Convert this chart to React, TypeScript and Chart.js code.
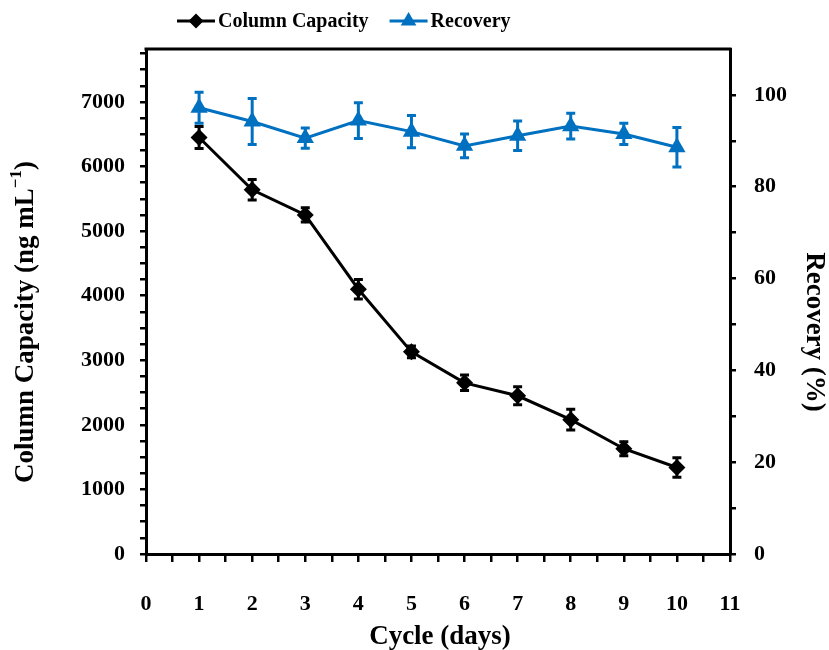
import React, { useEffect, useRef } from "react";
import { Chart, registerables } from "chart.js";

Chart.register(...registerables);

const cycles = [1, 2, 3, 4, 5, 6, 7, 8, 9, 10];
const capacity = [6450, 5640, 5250, 4100, 3130, 2650, 2450, 2080, 1630, 1340];
const capacityErr = [170, 160, 110, 150, 90, 120, 140, 160, 110, 150];
const recovery = [97.2, 94.2, 90.6, 94.4, 92.0, 88.9, 91.1, 93.2, 91.5, 88.6];
const recoveryErr = [3.4, 5.0, 2.2, 3.9, 3.5, 2.6, 3.2, 2.8, 2.3, 4.3];

const leftMax = 7820;
const rightMax = 110;
const xMax = 11;

const FONT = "'Liberation Serif', 'Times New Roman', serif";
const BLUE = "#0070C0";
const BLACK = "#000000";

const errorsById: Record<string, number[]> = {
  cap: capacityErr,
  rec: recoveryErr,
};

const customPlugin = {
  id: "custom",
  afterDatasetsDraw(chart: any) {
    const ctx = chart.ctx;
    chart.data.datasets.forEach((ds: any) => {
      const errs = errorsById[ds.id];
      if (!errs) return;
      const xs = chart.scales.x;
      const ys = chart.scales[ds.yAxisID];
      ctx.save();
      ctx.strokeStyle = ds.borderColor;
      ctx.lineWidth = 3;
      ds.data.forEach((p: any, i: number) => {
        const px = xs.getPixelForValue(p.x);
        const top = ys.getPixelForValue(p.y + errs[i]);
        const bot = ys.getPixelForValue(p.y - errs[i]);
        ctx.beginPath();
        ctx.moveTo(px, top);
        ctx.lineTo(px, bot);
        ctx.moveTo(px - 4.5, top);
        ctx.lineTo(px + 4.5, top);
        ctx.moveTo(px - 4.5, bot);
        ctx.lineTo(px + 4.5, bot);
        ctx.stroke();
      });
      ctx.restore();
    });
  },
  afterDraw(chart: any) {
    const ctx = chart.ctx;
    const a = chart.chartArea;
    ctx.save();
    ctx.strokeStyle = BLACK;
    ctx.lineWidth = 3;
    ctx.beginPath();
    ctx.moveTo(a.left - 1.5, a.top);
    ctx.lineTo(a.right + 1.5, a.top);
    ctx.stroke();

    ctx.fillStyle = BLACK;
    ctx.textBaseline = "middle";

    ctx.font = `bold 27px ${FONT}`;
    ctx.textAlign = "center";
    ctx.fillText("Cycle (days)", (a.left + a.right) / 2 + 2, 637);

    const mainFont = `bold 27px ${FONT}`;
    const supFont = `bold 17px ${FONT}`;
    const p1 = "Column Capacity (ng mL";
    const p2 = "\u22121";
    const p3 = ")";
    ctx.font = mainFont;
    const w1 = ctx.measureText(p1).width;
    const w3 = ctx.measureText(p3).width;
    ctx.font = supFont;
    const w2 = ctx.measureText(p2).width;
    const total = w1 + w2 + w3;
    ctx.save();
    ctx.translate(26, 322);
    ctx.rotate(-Math.PI / 2);
    ctx.textAlign = "left";
    let x0 = -total / 2;
    ctx.font = mainFont;
    ctx.fillText(p1, x0, 0);
    x0 += w1;
    ctx.font = supFont;
    ctx.fillText(p2, x0, -9);
    x0 += w2;
    ctx.font = mainFont;
    ctx.fillText(p3, x0, 0);
    ctx.restore();

    ctx.save();
    ctx.translate(814, 332);
    ctx.rotate(Math.PI / 2);
    ctx.textAlign = "center";
    ctx.font = mainFont;
    ctx.fillText("Recovery (%)", 0, 0);
    ctx.restore();

    const ly = 21;
    let lx = a.left + 31;
    ctx.font = `bold 20px ${FONT}`;
    ctx.textAlign = "left";
    chart.data.datasets.forEach((ds: any) => {
      const lineLen = 38;
      ctx.strokeStyle = ds.borderColor;
      ctx.fillStyle = ds.borderColor;
      ctx.lineWidth = 3;
      ctx.beginPath();
      ctx.moveTo(lx, ly);
      ctx.lineTo(lx + lineLen, ly);
      ctx.stroke();
      const cx = lx + lineLen / 2;
      ctx.beginPath();
      if (ds.pointStyle === "rectRot") {
        const r = 7.5;
        ctx.moveTo(cx, ly - r);
        ctx.lineTo(cx + r, ly);
        ctx.lineTo(cx, ly + r);
        ctx.lineTo(cx - r, ly);
      } else {
        const r = 9;
        ctx.moveTo(cx, ly - r);
        ctx.lineTo(cx + r * 0.87, ly + r * 0.5);
        ctx.lineTo(cx - r * 0.87, ly + r * 0.5);
      }
      ctx.closePath();
      ctx.fill();
      lx += lineLen + 3;
      ctx.fillStyle = BLACK;
      ctx.fillText(ds.label, lx, ly + 1);
      lx += ctx.measureText(ds.label).width + 21;
    });
    ctx.restore();
  },
};

export default function App() {
  const ref = useRef<HTMLCanvasElement | null>(null);
  useEffect(() => {
    if (!ref.current) return;
    const tickFont = { family: FONT, size: 22, weight: "bold" as const };
    const chart = new Chart(ref.current, {
      type: "line",
      data: {
        datasets: [
          {
            id: "cap",
            label: "Column Capacity",
            data: cycles.map((x, i) => ({ x, y: capacity[i] })),
            yAxisID: "y",
            borderColor: BLACK,
            backgroundColor: BLACK,
            borderWidth: 3,
            pointStyle: "rectRot",
            pointRadius: 8.5,
            pointBorderWidth: 0,
            tension: 0,
          } as any,
          {
            id: "rec",
            label: "Recovery",
            data: cycles.map((x, i) => ({ x, y: recovery[i] })),
            yAxisID: "y1",
            borderColor: BLUE,
            backgroundColor: BLUE,
            borderWidth: 3,
            pointStyle: "triangle",
            pointRadius: 10,
            pointBorderWidth: 0,
            tension: 0,
          } as any,
        ],
      },
      options: {
        animation: false,
        responsive: false,
        layout: { padding: { top: 49, left: 0, right: 0, bottom: 0 } },
        plugins: {
          legend: { display: false },
          tooltip: { enabled: false },
        },
        scales: {
          x: {
            type: "linear",
            min: 0,
            max: xMax,
            afterFit: (s: any) => {
              s.height = 96;
            },
            afterBuildTicks: (s: any) => {
              const t = [];
              for (let v = 0; v <= xMax + 1e-9; v += 0.5) t.push({ value: v });
              s.ticks = t;
            },
            ticks: {
              autoSkip: false,
              maxRotation: 0,
              padding: 29,
              color: BLACK,
              font: tickFont,
              callback: (v: any) => (Number.isInteger(v) ? String(v) : ""),
            },
            grid: {
              drawOnChartArea: false,
              drawTicks: true,
              tickLength: 8,
              color: BLACK,
              lineWidth: 2.5,
            },
            border: { display: true, color: BLACK, width: 3 },
          },
          y: {
            type: "linear",
            position: "left",
            min: 0,
            max: leftMax,
            afterFit: (s: any) => {
              s.width = 146;
            },
            afterBuildTicks: (s: any) => {
              const t = [];
              for (let v = 0; v <= leftMax; v += 250) t.push({ value: v });
              s.ticks = t;
            },
            ticks: {
              autoSkip: false,
              padding: 15,
              color: BLACK,
              font: tickFont,
              callback: (v: any) => (v % 1000 === 0 ? String(v) : ""),
            },
            grid: {
              drawOnChartArea: false,
              drawTicks: true,
              tickLength: 6,
              color: BLACK,
              lineWidth: 2.5,
            },
            border: { display: true, color: BLACK, width: 3 },
          },
          y1: {
            type: "linear",
            position: "right",
            min: 0,
            max: rightMax,
            afterFit: (s: any) => {
              s.width = 99;
            },
            afterBuildTicks: (s: any) => {
              const t = [];
              for (let v = 0; v < rightMax; v += 10) t.push({ value: v });
              s.ticks = t;
            },
            ticks: {
              autoSkip: false,
              padding: 18,
              color: BLACK,
              font: tickFont,
              callback: (v: any) => (v % 20 === 0 ? String(v) : ""),
            },
            grid: {
              drawOnChartArea: false,
              drawTicks: true,
              tickLength: 6,
              color: BLACK,
              lineWidth: 2.5,
            },
            border: { display: true, color: BLACK, width: 3 },
          },
        },
      } as any,
      plugins: [customPlugin],
    });
    return () => chart.destroy();
  }, []);
  return (
    <div style={{ position: "fixed", left: 0, top: 0, width: 829, height: 650, background: "#fff" }}>
      <canvas ref={ref} width={829} height={650} style={{ display: "block" }} />
    </div>
  );
}
